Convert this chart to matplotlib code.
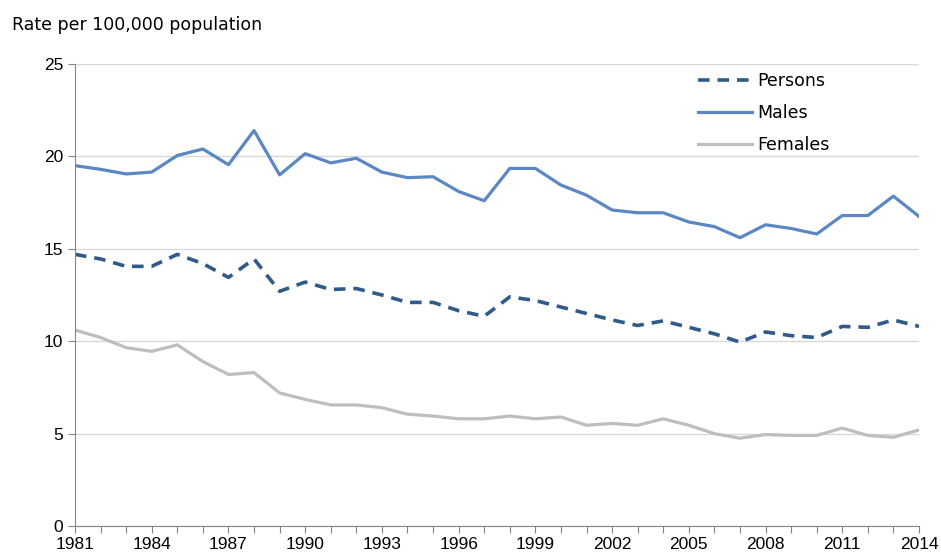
import numpy as np
import matplotlib.pyplot as plt

# Données
annees = list(range(1981, 2015))
persons = [14.7, 14.45, 14.05, 14.05, 14.7, 14.2, 13.45, 14.45, 12.7, 13.2,
           12.8, 12.85, 12.5, 12.1, 12.1, 11.65, 11.35, 12.4, 12.2, 11.85,
           11.5, 11.15, 10.85, 11.1, 10.75, 10.4, 9.95, 10.5, 10.3, 10.2,
           10.8, 10.75, 11.15, 10.8]
males = [19.5, 19.3, 19.05, 19.15, 20.05, 20.4, 19.55, 21.4, 19.0, 20.15,
         19.65, 19.9, 19.15, 18.85, 18.9, 18.1, 17.6, 19.35, 19.35, 18.45,
         17.9, 17.1, 16.95, 16.95, 16.45, 16.2, 15.6, 16.3, 16.1, 15.8,
         16.8, 16.8, 17.85, 16.75]
females = [10.6, 10.2, 9.65, 9.45, 9.8, 8.9, 8.2, 8.3, 7.2, 6.85,
           6.55, 6.55, 6.4, 6.05, 5.95, 5.8, 5.8, 5.95, 5.8, 5.9,
           5.45, 5.55, 5.45, 5.8, 5.45, 5.0, 4.75, 4.95, 4.9, 4.9,
           5.3, 4.9, 4.8, 5.2]
annees_etiquettes = list(range(1981, 2015, 3))

plt.rcParams['font.family'] = ['Liberation Sans', 'DejaVu Sans']

fig = plt.figure(figsize=(9.41, 5.59), dpi=100)
ax = fig.add_axes([75 / 941, 33 / 559, 844 / 941, 462 / 559])

ax.plot(annees, persons, color='#2F5A8A', lw=2.6, dashes=(3.2, 2.2), label='Persons')
ax.plot(annees, males, color='#5B87C2', lw=2.3, label='Males')
ax.plot(annees, females, color='#BEBEBE', lw=2.3, label='Females')

ax.set_xlim(1981, 2014)
ax.set_ylim(0, 25)
ax.set_yticks([0, 5, 10, 15, 20, 25])
ax.set_xticks(annees)
ax.set_xticklabels([str(a) if a in annees_etiquettes else '' for a in annees])
ax.grid(axis='y', color='#D9D9D9', lw=1)
ax.set_axisbelow(True)

for cote in ['top', 'right']:
    ax.spines[cote].set_visible(False)
ax.spines['left'].set_color('#868686')
ax.spines['bottom'].set_color('#868686')
ax.tick_params(axis='both', colors='#868686', labelcolor='black', labelsize=12.5, length=5, direction='out')
ax.tick_params(axis='x', pad=3)

fig.text(12 / 941, 1 - 25 / 559, 'Rate per 100,000 population', fontsize=12.5,
         family='DejaVu Sans', va='center', ha='left')

ax.legend(loc='upper left', bbox_to_anchor=(698 / 941, 1 - 72 / 559), bbox_transform=fig.transFigure,
          frameon=False, borderpad=0, borderaxespad=0, prop={'family': 'DejaVu Sans', 'size': 12.5},
          handlelength=3.1, handletextpad=0.3, labelspacing=0.8)

fig.savefig('out.png', dpi=100)
